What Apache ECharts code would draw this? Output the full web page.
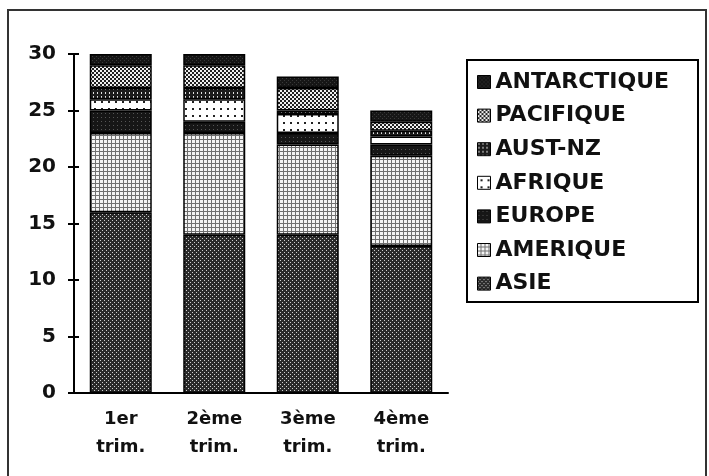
<!DOCTYPE html>
<html>
<head>
<meta charset="utf-8">
<script src="https://cdn.jsdelivr.net/npm/echarts@6/dist/echarts.min.js"></script>
<style>
  html, body { margin: 0; padding: 0; background: #fff; }
  #main { width: 709px; height: 476px; }
</style>
</head>
<body>
<div id="main"></div>
<script>
// trimestres
var categories = ['1er\ntrim.', '2ème\ntrim.', '3ème\ntrim.', '4ème\ntrim.'];
var yTicks = [0, 5, 10, 15, 20, 25, 30];

// valeurs par région (empilées de bas en haut)
var asie        = [16, 14, 14, 13];
var amerique    = [7, 9, 8, 8];
var europe      = [2, 1, 1, 1];
var afrique     = [1, 2, 1.7, 0.7];
var austNz      = [1, 1, 0.3, 0.5];
var pacifique   = [2, 2, 2, 0.8];
var antarctique = [1, 1, 1, 1];

// motifs de remplissage (style ancien tableur)
function makePattern(size, bg, fg, pts) {
    var c = document.createElement('canvas');
    c.width = size; c.height = size;
    var ctx = c.getContext('2d');
    ctx.fillStyle = bg;
    ctx.fillRect(0, 0, size, size);
    ctx.fillStyle = fg;
    pts.forEach(function (p) {
        ctx.fillRect(p[0], p[1], p[2] || 1, p[3] || 1);
    });
    return { image: c, repeat: 'repeat' };
}

var patterns = {
    ASIE: makePattern(4, '#2a2a2a', '#cfcfcf', [[0, 0], [2, 2]]),
    AMERIQUE: makePattern(4, '#f4f4f4', '#707070', [[3, 0, 1, 4], [0, 3, 4, 1]]),
    EUROPE: makePattern(4, '#161616', '#555', [[1, 1]]),
    AFRIQUE: makePattern(7, '#ffffff', '#222', [[3, 3, 2, 2]]),
    'AUST-NZ': makePattern(4, '#1c1c1c', '#e0e0e0', [[1, 0, 1, 2]]),
    PACIFIQUE: makePattern(4, '#f0f0f0', '#202020', [[0, 0, 2, 2], [2, 2, 2, 2]]),
    ANTARCTIQUE: makePattern(4, '#161616', '#3a3a3a', [[0, 0], [2, 2]])
};

var names = ['ASIE', 'AMERIQUE', 'EUROPE', 'AFRIQUE', 'AUST-NZ', 'PACIFIQUE', 'ANTARCTIQUE'];
var values = [asie, amerique, europe, afrique, austNz, pacifique, antarctique];

var series = names.map(function (n, i) {
    return {
        name: n,
        type: 'bar',
        stack: 'total',
        barWidth: 62,
        xAxisIndex: 0,
        yAxisIndex: 0,
        data: values[i],
        itemStyle: {
            color: patterns[n],
            borderColor: '#000',
            borderWidth: 1.5
        },
        emphasis: { disabled: true }
    };
});

var myChart = echarts.init(document.getElementById('main'));
myChart.setOption({
    animation: false,
    backgroundColor: '#fff',
    textStyle: { fontFamily: 'DejaVu Sans' },
    grid: { left: 74, right: 261, top: 54, bottom: 83 },
    legend: {
        data: names.slice().reverse(),
        orient: 'vertical',
        icon: 'rect',
        left: 468,
        top: 61,
        padding: [10, 8, 8, 9],
        itemWidth: 13,
        itemHeight: 13,
        itemGap: 11.6,
        selectedMode: false,
        textStyle: { fontSize: 22, fontWeight: 'bold', color: '#111', fontFamily: 'DejaVu Sans' },
        itemStyle: { borderColor: '#000', borderWidth: 1 }
    },
    xAxis: [{
        type: 'category',
        data: categories,
        position: 'bottom',
        axisLine: { lineStyle: { color: '#000', width: 2 } },
        axisTick: { length: 7, lineStyle: { color: '#000', width: 2 } },
        axisLabel: {
            color: '#111', fontSize: 18, fontWeight: 'bold', lineHeight: 28, margin: 12
        }
    }, {
        type: 'category',
        data: categories,
        position: 'bottom',
        axisLine: { show: false },
        axisTick: { inside: true, length: 5, lineStyle: { color: '#000', width: 2 } },
        axisLabel: { show: false }
    }],
    yAxis: [{
        type: 'value',
        min: yTicks[0],
        max: yTicks[yTicks.length - 1],
        interval: 5,
        splitLine: { show: false },
        axisLine: { show: true, lineStyle: { color: '#000', width: 2 } },
        axisTick: { show: true, length: 6, lineStyle: { color: '#000', width: 2 } },
        axisLabel: { color: '#111', fontSize: 20, fontWeight: 'bold', margin: 18 }
    }, {
        type: 'value',
        position: 'left',
        min: yTicks[0],
        max: yTicks[yTicks.length - 1],
        interval: 5,
        splitLine: { show: false },
        axisLine: { show: false },
        axisTick: { show: true, inside: true, length: 5, lineStyle: { color: '#000', width: 2 } },
        axisLabel: { show: false }
    }],
    graphic: [{
        type: 'rect',
        shape: { x: 8, y: 10, width: 698, height: 490 },
        style: { fill: 'none', stroke: '#333', lineWidth: 2 }
    }, {
        type: 'rect',
        shape: { x: 467, y: 60, width: 231, height: 242 },
        style: { fill: 'none', stroke: '#000', lineWidth: 2 }
    }],
    series: series
});
</script>
</body>
</html>
